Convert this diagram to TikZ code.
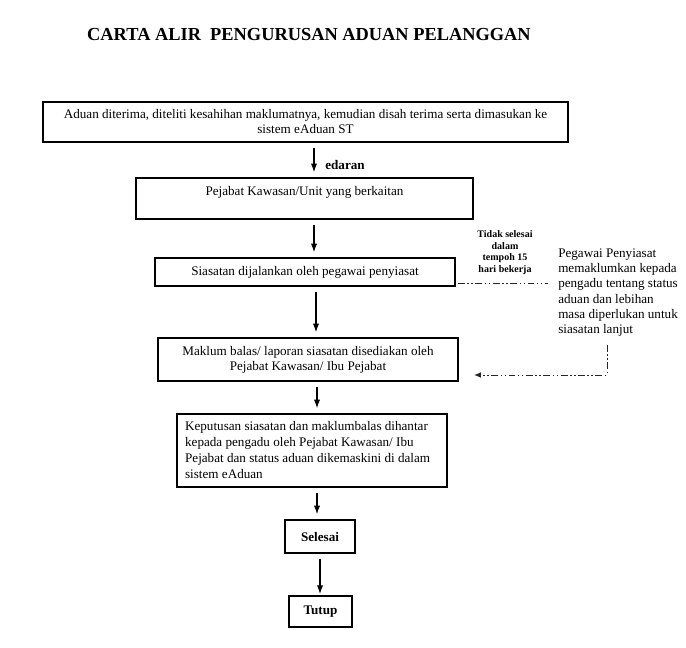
\documentclass[tikz,border=0pt]{standalone}
\usepackage{fontspec}
\setmainfont{Liberation Serif}
\usetikzlibrary{arrows.meta}

\tikzset{
  box/.style={draw, line width=1pt, inner sep=0pt, align=center, font=\fontsize{10.5}{12}\selectfont},
  flow/.style={-{Latex[length=7pt,width=5pt]}, line width=1pt, shorten <=4pt, shorten >=4pt},
  dashdot/.style={line width=0.8pt, black!85, dash pattern=on 5.5pt off 2pt on 1.2pt off 2pt on 1.2pt off 2pt},
}

\begin{document}
\begin{tikzpicture}[x=0.8pt, y=-0.8pt]
\useasboundingbox (0,0) rectangle (686,647);
\node[font=\fontsize{14.7}{16}\selectfont\bfseries] (title) at (309,35) {CARTA ALIR\ \ PENGURUSAN ADUAN PELANGGAN};

% kotak utama
\node[box, minimum width=420pt, minimum height=32pt] (recv) at (305.5,122)
	{Aduan diterima, diteliti kesahihan maklumatnya, kemudian disah terima serta dimasukan ke\\ sistem eAduan ST};
\node[box, minimum width=269.6pt, minimum height=32.8pt] (unit) at (304.5,198.5)
	{Pejabat Kawasan/Unit yang berkaitan\\ \mbox{}};
\node[box, minimum width=240pt, minimum height=22.4pt] (probe) at (305,272)
	{Siasatan dijalankan oleh pegawai penyiasat};
\node[box, minimum width=240pt, minimum height=34.4pt] (reply) at (308,359.5)
	{Maklum balas/ laporan siasatan disediakan oleh\\ Pejabat Kawasan/ Ibu Pejabat};
\node[box, align=flush left, text width=203pt, inner xsep=6.5pt, minimum height=58.4pt,
	font=\fontsize{10.5}{12.8}\selectfont] (decide) at (312,450.5)
	{Keputusan siasatan dan maklumbalas dihantar\\ kepada pengadu oleh Pejabat Kawasan/ Ibu\\ Pejabat dan status aduan dikemaskini di dalam\\ sistem eAduan};
\node[box, minimum width=56pt, minimum height=26.4pt, font=\fontsize{10.5}{12}\selectfont\bfseries] (done) at (320,536.5) {Selesai};
\node[box, minimum width=50.4pt, minimum height=24.8pt, font=\fontsize{10.5}{12}\selectfont\bfseries] (close) at (320.5,611.5) {Tutup};

% anak panah
\coordinate (c1) at (314,0);
\coordinate (c2) at (316,0);
\coordinate (c3) at (317,0);
\coordinate (c4) at (320,0);
\draw[flow] (c1 |- recv.south) -- (c1 |- unit.north);
\draw[flow] (c1 |- unit.south) -- (c1 |- probe.north);
\draw[flow] (c2 |- probe.south) -- (c2 |- reply.north);
\draw[flow] (c3 |- reply.south) -- (c3 |- decide.north);
\draw[flow] (c3 |- decide.south) -- (c3 |- done.north);
\draw[flow, shorten >=1pt] (c4 |- done.south) -- (c4 |- close.north);
\node[font=\fontsize{10.5}{12}\selectfont\bfseries] (sent) at (345,165) {edaran};

% lewat 15 hari
\coordinate (lateS) at (458,283);
\coordinate (lateE) at (548,283);
\draw[dashdot] (lateS) -- (lateE);
\node[align=center, inner sep=0pt, font=\fontsize{8}{9.3}\selectfont\bfseries] (late) at (505,252.5)
	{Tidak selesai\\ dalam\\ tempoh 15\\ hari bekerja};
\node[anchor=west, align=left, inner sep=0pt, font=\fontsize{10.5}{12.1}\selectfont] (notify) at (558,292.5)
	{Pegawai Penyiasat\\ memaklumkan kepada\\ pengadu tentang status\\ aduan dan lebihan\\ masa diperlukan untuk\\ siasatan lanjut};
\coordinate (backA) at (607,345);
\coordinate (backB) at (607,375);
\coordinate (backC) at (474,375);
\draw[dashdot, -{Latex[length=5.5pt,width=4.5pt]}] (backA) -- (backB) -- (backC);
\end{tikzpicture}
\end{document}
